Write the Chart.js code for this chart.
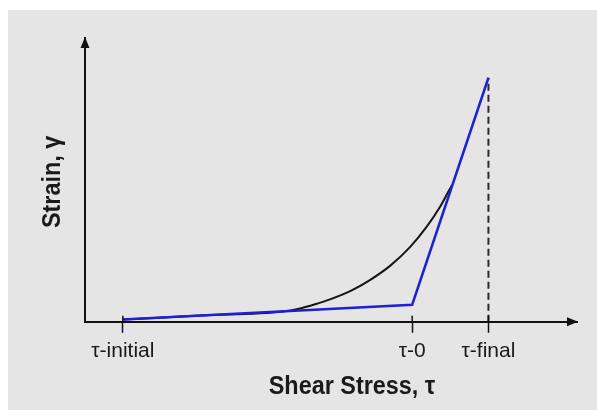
<!DOCTYPE html>
<html>
<head>
<meta charset="utf-8">
<script src="https://cdn.jsdelivr.net/npm/chart.js@4.4.1/dist/chart.umd.min.js"></script>
<style>
  html, body { margin: 0; padding: 0; background: #ffffff; }
  #frame { position: absolute; left: 8px; top: 10px; width: 589px; height: 400px; background: #e5e5e5; }
  canvas { display: block; }
</style>
</head>
<body>
<div id="frame"><canvas id="chart" width="589" height="400"></canvas></div>
<script>
// Stress positions marked on the horizontal axis
const stressTicks = [7.7, 66.5, 82];
const stressTickLabels = ['τ-initial', 'τ-0', 'τ-final'];

// Measured strain response (black curve)
const curveStress = [7.7, 23.4, 40.2, 43.7, 46.8, 49.8, 53.9, 57.9, 62.0, 66.1, 69.5, 72.2, 73.8, 74.6];
const curveStrain = [0.8, 2.2, 3.6, 4.7, 6.2, 7.9, 10.8, 14.7, 19.7, 26.4, 33.6, 40.6, 45.7, 48.2];

// Bilinear approximation (blue line)
const linearStress = [7.7, 66.5, 82];
const linearStrain = [0.8, 6.0, 86];

// Vertical marker at the final stress
const finalStress = [82, 82];
const finalStrain = [0, 86];

const xTitle = 'Shear Stress, τ';
const yTitle = 'Strain, γ';

const pts = (xs, ys) => xs.map((x, i) => ({ x: x, y: ys[i] }));

const axisDecor = {
  id: 'axisDecor',
  afterDraw(chart) {
    const { ctx, chartArea: a, scales: { x, y } } = chart;
    const y0 = y.getPixelForValue(0);
    ctx.save();
    ctx.fillStyle = '#111';
    // arrow heads
    ctx.beginPath();
    ctx.moveTo(a.right + 1, y0);
    ctx.lineTo(a.right - 10, y0 - 4.5);
    ctx.lineTo(a.right - 10, y0 + 4.5);
    ctx.closePath();
    ctx.fill();
    ctx.beginPath();
    ctx.moveTo(a.left, a.top - 1);
    ctx.lineTo(a.left - 4.5, a.top + 10);
    ctx.lineTo(a.left + 4.5, a.top + 10);
    ctx.closePath();
    ctx.fill();
    // short upward part of the tick marks
    ctx.strokeStyle = '#111';
    ctx.lineWidth = 1.5;
    stressTicks.forEach(v => {
      const px = x.getPixelForValue(v);
      ctx.beginPath();
      ctx.moveTo(px, y0);
      ctx.lineTo(px, y0 - 6);
      ctx.stroke();
    });
    // axis titles
    ctx.fillStyle = '#1a1a1a';
    ctx.font = 'bold 26px "Liberation Sans", Arial, sans-serif';
    ctx.textAlign = 'center';
    ctx.textBaseline = 'alphabetic';
    ctx.save();
    ctx.translate((a.left + a.right) / 2 + 21, a.bottom + 72);
    ctx.scale(0.9, 1);
    ctx.fillText(xTitle, 0, 0);
    ctx.restore();
    ctx.save();
    ctx.translate(a.left - 25, (a.top + a.bottom) / 2 + 2);
    ctx.rotate(-Math.PI / 2);
    ctx.scale(0.9, 1);
    ctx.fillText(yTitle, 0, 0);
    ctx.restore();
    ctx.restore();
  }
};

new Chart(document.getElementById('chart'), {
  type: 'line',
  data: {
    datasets: [
      {
        data: pts(linearStress, linearStrain),
        borderColor: '#1f1fd6',
        borderWidth: 2.5,
        pointRadius: 0,
        tension: 0,
        order: 0
      },
      {
        data: pts(curveStress, curveStrain),
        borderColor: '#151515',
        borderWidth: 2,
        pointRadius: 0,
        cubicInterpolationMode: 'monotone',
        order: 1
      },
      {
        data: pts(finalStress, finalStrain),
        borderColor: '#2a2a2a',
        borderWidth: 2,
        borderDash: [7, 4],
        pointRadius: 0,
        order: 2
      }
    ]
  },
  options: {
    responsive: false,
    animation: false,
    layout: { padding: { left: 77, right: 20, top: 28, bottom: 40 } },
    plugins: { legend: { display: false }, tooltip: { enabled: false } },
    scales: {
      x: {
        type: 'linear',
        min: 0,
        max: 100,
        afterBuildTicks: s => { s.ticks = stressTicks.map(v => ({ value: v })); },
        ticks: {
          callback: (v, i) => stressTickLabels[i],
          autoSkip: false,
          maxRotation: 0,
          padding: 6,
          color: '#1a1a1a',
          font: { family: '"Liberation Sans", Arial, sans-serif', size: 21 }
        },
        grid: { drawOnChartArea: false, drawTicks: true, tickLength: 11, tickColor: '#111', tickWidth: 1.5 },
        border: { display: true, color: '#111', width: 2 }
      },
      y: {
        type: 'linear',
        min: 0,
        max: 100,
        ticks: { display: false },
        grid: { drawOnChartArea: false, drawTicks: false },
        border: { display: true, color: '#111', width: 2 }
      }
    }
  },
  plugins: [axisDecor]
});
</script>
</body>
</html>
